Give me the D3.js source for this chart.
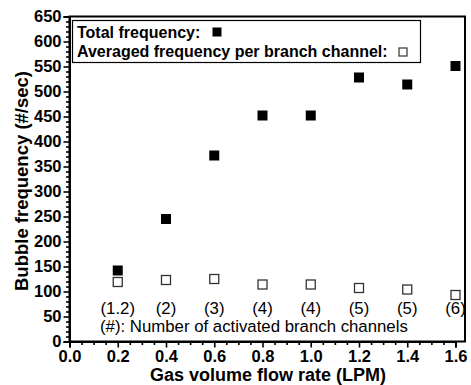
<!DOCTYPE html>
<html>
<head>
<meta charset="utf-8">
<script src="https://cdn.jsdelivr.net/npm/d3@7"></script>
<style>
  body { margin: 0; background: #fff; }
  svg { display: block; font-family: "Liberation Sans", Arial, sans-serif; }
</style>
</head>
<body>
<svg id="chart" width="471" height="385"></svg>
<script>
// Gas flow rates (LPM)
const flowRates = [0.2, 0.4, 0.6, 0.8, 1.0, 1.2, 1.4, 1.6];
// Total bubble frequency (#/sec)
const totalFreq = [142, 245, 372, 452, 452, 528, 514, 551];
// Averaged frequency per branch channel (#/sec)
const avgFreq = [119, 123, 125, 114, 114, 107, 104, 93];
// Number of activated branch channels
const channelLabels = ["(1.2)", "(2)", "(3)", "(4)", "(4)", "(5)", "(5)", "(6)"];
const xTicks = [0.0, 0.2, 0.4, 0.6, 0.8, 1.0, 1.2, 1.4, 1.6];
const yTicks = d3.range(0, 651, 50);

const svg = d3.select("#chart");
const plotL = 69.5, plotR = 465, plotT = 16.5, plotB = 341.5;

const x = d3.scaleLinear().domain([0, 1.6]).range([plotL, 455.5]);
const y = d3.scaleLinear().domain([0, 650]).range([plotB, plotT]);

// Frame
svg.append("rect")
  .attr("x", plotL).attr("y", plotT)
  .attr("width", plotR - plotL).attr("height", plotB - plotT)
  .attr("fill", "none").attr("stroke", "#000").attr("stroke-width", 2);

// Y axis: major and minor ticks
svg.append("g").attr("transform", `translate(${plotL},0)`)
  .call(d3.axisLeft(y).tickValues(yTicks).tickSize(6).tickPadding(2).tickFormat(d3.format("d")));
svg.append("g").attr("transform", `translate(${plotL},0)`)
  .call(d3.axisLeft(y).tickValues(d3.range(0, 651, 10).filter(v => v % 50 !== 0)).tickSize(3.5).tickFormat(""))
  .call(g => g.select(".domain").remove());

// X axis: major and minor ticks
svg.append("g").attr("transform", `translate(0,${plotB})`)
  .call(d3.axisBottom(x).tickValues(xTicks).tickSize(6).tickPadding(3).tickFormat(d3.format(".1f")));
svg.append("g").attr("transform", `translate(0,${plotB})`)
  .call(d3.axisBottom(x).tickValues(d3.range(0.05, 1.64, 0.05).filter(v => Math.abs(v * 5 - Math.round(v * 5)) > 1e-6)).tickSize(3.5).tickFormat(""))
  .call(g => g.select(".domain").remove());

svg.selectAll(".domain").attr("stroke", "#000").attr("stroke-width", 2);
svg.selectAll(".tick line").attr("stroke", "#000").attr("stroke-width", 1.6);
svg.selectAll(".tick text")
  .attr("font-family", "Liberation Sans, Arial, sans-serif")
  .attr("font-size", 16.5).attr("font-weight", "bold").attr("fill", "#000");

// Axis titles
svg.append("text")
  .attr("x", 268).attr("y", 381)
  .attr("text-anchor", "middle")
  .attr("font-size", 18).attr("font-weight", "bold")
  .text("Gas volume flow rate (LPM)");
svg.append("text")
  .attr("transform", "translate(28,181) rotate(-90)")
  .attr("text-anchor", "middle")
  .attr("font-size", 18.5).attr("font-weight", "bold")
  .text("Bubble frequency (#/sec)");

// Total frequency (filled squares)
const fs = 10;
svg.append("g").selectAll("rect")
  .data(flowRates)
  .join("rect")
  .attr("x", (d) => x(d) - fs / 2)
  .attr("y", (d, i) => y(totalFreq[i]) - fs / 2)
  .attr("width", fs).attr("height", fs)
  .attr("fill", "#000");

// Averaged frequency (open squares)
const os = 9;
svg.append("g").selectAll("rect")
  .data(flowRates)
  .join("rect")
  .attr("x", (d) => x(d) - os / 2)
  .attr("y", (d, i) => y(avgFreq[i]) - os / 2)
  .attr("width", os).attr("height", os)
  .attr("fill", "#fff").attr("stroke", "#333").attr("stroke-width", 1.3);

// Channel count annotations
svg.append("g").selectAll("text")
  .data(flowRates)
  .join("text")
  .attr("x", (d) => x(d))
  .attr("y", 314)
  .attr("text-anchor", "middle")
  .attr("font-size", 16.8)
  .text((d, i) => channelLabels[i]);
svg.append("text")
  .attr("x", 100).attr("y", 332)
  .attr("font-size", 16.8)
  .text("(#): Number of activated branch channels");

// Legend
const lg = svg.append("g");
lg.append("rect")
  .attr("x", 72.5).attr("y", 20.5).attr("width", 348).attr("height", 42)
  .attr("fill", "#fff").attr("stroke", "#000").attr("stroke-width", 1.2);
lg.append("text").attr("x", 77).attr("y", 37.5)
  .attr("font-size", 16).attr("font-weight", "bold").text("Total frequency:");
lg.append("text").attr("x", 77).attr("y", 57)
  .attr("font-size", 16).attr("font-weight", "bold").text("Averaged frequency per branch channel:");
lg.append("rect").attr("x", 212.5).attr("y", 27.5).attr("width", 9).attr("height", 9).attr("fill", "#000");
lg.append("rect").attr("x", 399).attr("y", 48).attr("width", 8).attr("height", 8)
  .attr("fill", "#fff").attr("stroke", "#333").attr("stroke-width", 1.2);
</script>
</body>
</html>
